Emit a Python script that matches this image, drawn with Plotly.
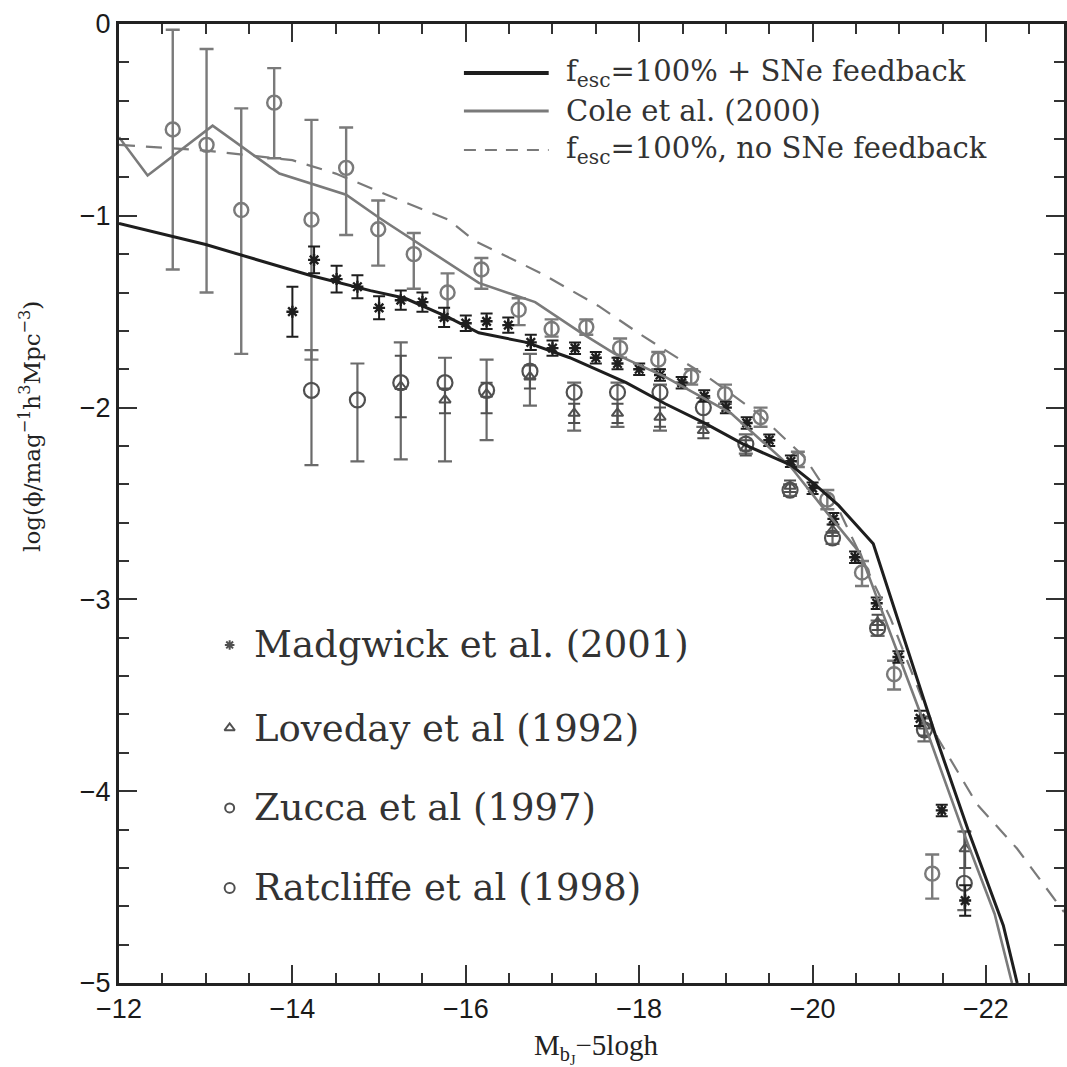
import plotly.graph_objects as go

# ---------------- model curves ----------------
sne_M = [-12.0, -13.0, -14.2, -14.9, -15.3, -15.8, -16.15, -16.7, -17.2, -17.85, -18.3, -18.75,
         -19.2, -19.75, -20.0, -20.3, -20.7, -21.44, -21.8, -22.0, -22.2, -22.36]
sne_y = [-1.04, -1.15, -1.31, -1.39, -1.43, -1.53, -1.61, -1.66, -1.74, -1.87, -1.98, -2.08,
         -2.19, -2.30, -2.39, -2.51, -2.71, -3.74, -4.21, -4.45, -4.70, -5.0]

cole_M = [-12.0, -12.33, -13.08, -13.85, -14.62, -15.0, -16.15, -16.8, -17.33, -17.72, -18.3,
          -19.06, -19.75, -20.17, -20.55, -21.29, -21.72, -22.1, -22.3]
cole_y = [-0.59, -0.79, -0.53, -0.78, -0.89, -1.01, -1.35, -1.45, -1.61, -1.72, -1.84,
          -2.03, -2.31, -2.55, -2.76, -3.65, -4.19, -4.64, -5.0]

nosne_M = [-12.0, -13.0, -14.0, -14.5, -15.3, -15.8, -16.1, -16.87, -17.53, -18.02, -18.79,
           -19.37, -19.91, -20.3, -20.9, -21.44, -21.9, -22.36, -22.9]
nosne_y = [-0.63, -0.66, -0.71, -0.78, -0.93, -1.02, -1.13, -1.30, -1.47, -1.62, -1.84,
           -2.03, -2.26, -2.53, -3.10, -3.72, -4.07, -4.30, -4.63]

# ---------------- data points ----------------
# Madgwick et al. (2001)
mad_M = [-14.0, -14.25, -14.51, -14.75, -15.0, -15.25, -15.5, -15.75, -16.0, -16.24, -16.49,
         -16.75, -17.0, -17.26, -17.5, -17.75, -18.0, -18.24, -18.49, -18.75, -19.0, -19.24,
         -19.5, -19.75, -20.0, -20.24, -20.49, -20.74, -20.99, -21.24, -21.49, -21.76]
mad_y = [-1.50, -1.23, -1.33, -1.37, -1.48, -1.44, -1.45, -1.53, -1.56, -1.55, -1.57,
         -1.66, -1.69, -1.69, -1.74, -1.77, -1.80, -1.83, -1.87, -1.94, -2.00, -2.08,
         -2.17, -2.28, -2.42, -2.58, -2.78, -3.02, -3.30, -3.62, -4.10, -4.57]
mad_e = [0.13, 0.07, 0.07, 0.06, 0.06, 0.05, 0.05, 0.05, 0.04, 0.04, 0.04,
         0.04, 0.04, 0.03, 0.03, 0.03, 0.03, 0.03, 0.03, 0.03, 0.03, 0.03,
         0.03, 0.03, 0.03, 0.03, 0.03, 0.03, 0.03, 0.04, 0.03, 0.08]

# Loveday et al (1992)
lov_M = [-15.25, -15.76, -16.24, -16.74, -17.25, -17.75, -18.24, -18.74, -19.23, -19.74,
         -20.23, -20.75, -21.29, -21.76]
lov_y = [-1.89, -1.96, -1.93, -1.84, -2.03, -2.03, -2.05, -2.12, -2.21, -2.41,
         -2.64, -3.12, -3.66, -4.30]
lov_top = [-1.73, -1.90, -1.87, -1.78, -1.98, -1.98, -2.00, -2.08, -2.17, -2.38,
           -2.61, -3.08, -3.61, -4.21]
lov_bot = [-2.05, -2.03, -2.03, -1.90, -2.08, -2.08, -2.10, -2.16, -2.25, -2.44,
           -2.67, -3.16, -3.71, -4.40]

# Zucca et al (1997)
zuc_M = [-12.62, -13.01, -13.41, -13.79, -14.22, -14.62, -14.99, -15.40, -15.79, -16.18,
         -16.61, -16.99, -17.39, -17.78, -18.22, -18.60, -18.99, -19.40, -19.83, -20.17,
         -20.57, -20.94, -21.38]
zuc_y = [-0.55, -0.63, -0.97, -0.41, -1.02, -0.75, -1.07, -1.20, -1.40, -1.28,
         -1.49, -1.59, -1.58, -1.69, -1.75, -1.84, -1.93, -2.05, -2.27, -2.48,
         -2.86, -3.39, -4.43]
zuc_top = [-0.03, -0.13, -0.44, -0.23, -0.50, -0.54, -0.92, -1.09, -1.30, -1.22,
           -1.43, -1.54, -1.54, -1.64, -1.71, -1.80, -1.88, -2.00, -2.23, -2.43,
           -2.80, -3.32, -4.33]
zuc_bot = [-1.28, -1.40, -1.72, -0.70, -1.75, -1.10, -1.26, -1.38, -1.54, -1.38,
           -1.57, -1.63, -1.62, -1.74, -1.80, -1.88, -1.98, -2.10, -2.31, -2.53,
           -2.93, -3.47, -4.56]

# Ratcliffe et al (1998)
rat_M = [-14.22, -14.75, -15.25, -15.76, -16.24, -16.74, -17.25, -17.75, -18.24, -18.74,
         -19.23, -19.74, -20.23, -20.75, -21.29, -21.75]
rat_y = [-1.91, -1.96, -1.87, -1.87, -1.91, -1.81, -1.92, -1.92, -1.92, -2.00,
         -2.19, -2.43, -2.68, -3.15, -3.68, -4.48]
rat_top = [-1.70, -1.77, -1.66, -1.74, -1.75, -1.72, -1.87, -1.87, -1.88, -1.95,
           -2.14, -2.40, -2.65, -3.11, -3.62, -4.21]
rat_bot = [-2.30, -2.28, -2.27, -2.28, -2.17, -1.99, -2.12, -2.10, -2.12, -2.10,
           -2.24, -2.46, -2.71, -3.19, -3.74, -4.62]

# ---------------- text ----------------
line_labels = ["f<sub>esc</sub>=100% + SNe feedback", "Cole et al. (2000)",
               "f<sub>esc</sub>=100%, no SNe feedback"]
data_labels = ["Madgwick et al. (2001)", "Loveday et al (1992)", "Zucca et al (1997)",
               "Ratcliffe et al (1998)"]
x_ticks = [-12, -14, -16, -18, -20, -22]
y_ticks = [0, -1, -2, -3, -4, -5]
x_title = "M<sub>b<sub>J</sub></sub>\u22125logh"
y_title = "log(\u03d5/mag<sup>\u22121</sup>h<sup>3</sup>Mpc<sup>\u22123</sup>)"

BLACK = "#1e1e1e"
GREY = "#7a7a7a"
DGREY = "#505050"


def errs(y, top, bot):
    return [t - v for t, v in zip(top, y)], [v - b for v, b in zip(y, bot)]


fig = go.Figure()

zp, zm = errs(zuc_y, zuc_top, zuc_bot)
fig.add_trace(go.Scatter(x=zuc_M, y=zuc_y, mode="markers",
                         marker=dict(symbol="circle-open", size=14, color=GREY, line=dict(width=2.4, color=GREY)),
                         error_y=dict(type="data", array=zp, arrayminus=zm, color=GREY, thickness=2.4, width=7),
                         showlegend=False))
rp, rm = errs(rat_y, rat_top, rat_bot)
fig.add_trace(go.Scatter(x=rat_M, y=rat_y, mode="markers",
                         marker=dict(symbol="circle-open", size=15, color=DGREY, line=dict(width=2.2, color=DGREY)),
                         error_y=dict(type="data", array=rp, arrayminus=rm, color="#6a6a6a", thickness=2.2, width=7),
                         showlegend=False))
lp, lm = errs(lov_y, lov_top, lov_bot)
fig.add_trace(go.Scatter(x=lov_M, y=lov_y, mode="markers",
                         marker=dict(symbol="triangle-up-open", size=10, color=DGREY, line=dict(width=2, color=DGREY)),
                         error_y=dict(type="data", array=lp, arrayminus=lm, color=DGREY, thickness=2, width=6),
                         showlegend=False))
fig.add_trace(go.Scatter(x=mad_M, y=mad_y, mode="markers",
                         marker=dict(symbol="asterisk-open", size=10, color=BLACK, line=dict(width=2.4, color=BLACK)),
                         error_y=dict(type="data", array=mad_e, color=BLACK, thickness=2, width=6),
                         showlegend=False))

fig.add_trace(go.Scatter(x=nosne_M, y=nosne_y, mode="lines",
                         line=dict(color=GREY, width=2.2, dash="16px,11px"), showlegend=False))
fig.add_trace(go.Scatter(x=cole_M, y=cole_y, mode="lines",
                         line=dict(color=GREY, width=2.6), showlegend=False))
fig.add_trace(go.Scatter(x=sne_M, y=sne_y, mode="lines",
                         line=dict(color=BLACK, width=3), showlegend=False))

# legend markers on an overlay axis spanning 0..1
leg_sym = ["asterisk-open", "triangle-up-open", "circle-open", "circle-open"]
leg_size = [8, 9, 9, 10]
leg_y = [0.3525, 0.2659, 0.1825, 0.0991]
for sym, sz, yy in zip(leg_sym, leg_size, leg_y):
    fig.add_trace(go.Scatter(x=[0.1171], y=[yy], mode="markers", xaxis="x2", yaxis="y2",
                             marker=dict(symbol=sym, size=sz, color=DGREY, line=dict(width=2, color=DGREY)),
                             showlegend=False, hoverinfo="skip"))
for txt, yy in zip(data_labels, leg_y):
    fig.add_annotation(x=0.141, y=yy, xref="paper", yref="paper", text=txt, showarrow=False,
                       xanchor="left", yanchor="middle",
                       font=dict(family="DejaVu Serif", size=37, color="#333333"))

# top-right line legend
line_styles = [dict(color=BLACK, width=4), dict(color=GREY, width=3),
               dict(color=GREY, width=2, dash="12px,9px")]
line_y = [0.9489, 0.9093, 0.8686]
for st, yy, txt in zip(line_styles, line_y, line_labels):
    fig.add_shape(type="line", xref="paper", yref="paper", x0=0.3650, x1=0.4547, y0=yy, y1=yy, line=st)
    fig.add_annotation(x=0.4705, y=yy, xref="paper", yref="paper", text=txt, showarrow=False,
                       xanchor="left", yanchor="middle",
                       font=dict(family="DejaVu Serif", size=29, color="#333333"))

axis_common = dict(showline=True, linewidth=3, linecolor="#222222", mirror="allticks",
                   ticks="inside", ticklen=18, tickwidth=2, tickcolor="#333333",
                   showgrid=False, zeroline=False,
                   tickfont=dict(family="Liberation Sans", size=27, color="#1a1a1a"))

fig.update_layout(
    width=1067, height=1067,
    margin=dict(l=119, r=0, t=24, b=84),
    paper_bgcolor="white", plot_bgcolor="white",
    xaxis=dict(range=[-12, -22.9], tickvals=x_ticks,
               ticktext=["\u2212" + str(abs(v)) for v in x_ticks],
               minor=dict(dtick=0.5, tick0=-12, ticks="inside", ticklen=10, tickwidth=2, tickcolor="#333333"),
               **axis_common),
    yaxis=dict(range=[-5, 0], tickvals=y_ticks,
               ticktext=[("\u2212" + str(abs(v))) if v else "0" for v in y_ticks],
               minor=dict(dtick=0.2, tick0=0, ticks="inside", ticklen=10, tickwidth=2, tickcolor="#333333"),
               **axis_common),
    xaxis2=dict(range=[0, 1], overlaying="x", visible=False, fixedrange=True),
    yaxis2=dict(range=[0, 1], overlaying="y", visible=False, fixedrange=True),
    font=dict(family="DejaVu Serif", color="#222222"),
)

fig.add_annotation(x=0.505, y=-0.068, xref="paper", yref="paper",
                   text=x_title, showarrow=False, xanchor="center", yanchor="middle",
                   font=dict(family="Liberation Serif", size=29, color="#222222"))
fig.add_annotation(x=-0.094, y=0.58, xref="paper", yref="paper",
                   text=y_title, showarrow=False, textangle=-90, xanchor="center", yanchor="middle",
                   font=dict(family="DejaVu Serif", size=23, color="#222222"))

fig.write_html("out.html")
